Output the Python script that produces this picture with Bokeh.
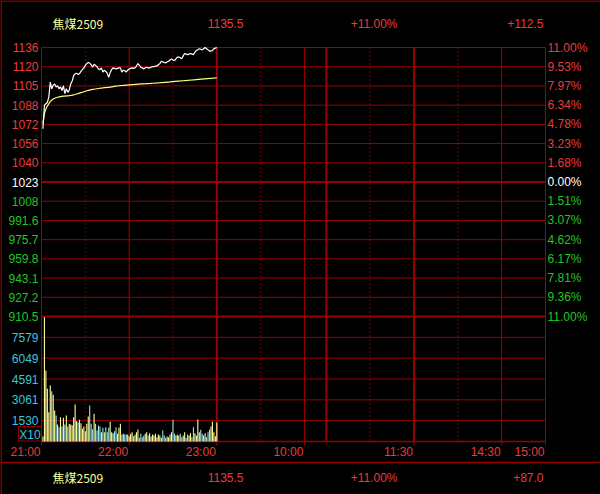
import numpy as np
from bokeh.plotting import figure
from bokeh.models import Range1d, GlobalInlineStyleSheet, ColumnDataSource
from bokeh.core.properties import value
from bokeh.embed import file_html
from bokeh.resources import INLINE

# ---------------- data ----------------
contract = "焦煤2509"
prev_settle = 1023.0
price_hi = 1135.5
price_lo = 910.5
session_minutes = 345

header_values = ["1135.5", "+11.00%", "+112.5"]
footer_values = ["1135.5", "+11.00%", "+87.0"]

price_labels = ["1136", "1120", "1105", "1088", "1072", "1056", "1040", "1023",
                "1008", "991.6", "975.7", "959.8", "943.1", "927.2", "910.5"]
pct_labels = ["11.00%", "9.53%", "7.97%", "6.34%", "4.78%", "3.23%", "1.68%", "0.00%",
              "1.51%", "3.07%", "4.62%", "6.17%", "7.81%", "9.36%", "11.00%"]
vol_labels = ["1530", "3061", "4591", "6049", "7579"]
vol_top = 9109
vol_unit_label = "X10"

# minutes from 21:00 (night 21-23, day 9-10:15, 10:30-11:30, 13:30-15:00)
time_ticks = [0, 60, 120, 180, 255, 315, 345]
time_labels = ["21:00", "22:00", "23:00", "10:00", "11:30", "14:30", "15:00"]
solid_minutes = [60, 180, 315]
thick_minutes = [120, 195, 255]
dotted_minutes = [30, 90, 150, 225, 285]

minutes = list(range(1, 121))
prices = [1067.5, 1087.0, 1088.5, 1089.5, 1094.0, 1106.5, 1101.0, 1104.0, 1105.0, 1102.5,
          1103.5, 1101.0, 1102.5, 1099.5, 1103.5, 1097.0, 1101.0, 1098.0, 1100.0, 1105.0,
          1107.5, 1112.0, 1113.5, 1114.0, 1113.0, 1113.5, 1115.5, 1117.0, 1118.5, 1120.5,
          1122.0, 1123.0, 1122.5, 1121.0, 1119.0, 1121.5, 1120.5, 1119.5, 1117.5, 1117.0,
          1118.5, 1115.0, 1116.5, 1115.5, 1114.0, 1110.5, 1114.5, 1117.0, 1118.5, 1118.0,
          1117.5, 1118.0, 1118.5, 1118.5, 1115.0, 1116.5, 1116.0, 1115.0, 1116.5, 1117.5,
          1118.0, 1118.5, 1118.0, 1118.5, 1120.0, 1122.0, 1120.5, 1119.0, 1118.5, 1117.5,
          1118.5, 1119.0, 1118.5, 1118.5, 1119.0, 1119.5, 1119.5, 1120.0, 1120.0, 1121.0,
          1122.0, 1124.0, 1123.5, 1123.0, 1122.5, 1123.5, 1124.0, 1125.0, 1126.0, 1125.0,
          1124.5, 1126.0, 1127.5, 1127.5, 1127.0, 1126.0, 1128.5, 1130.5, 1130.0, 1129.5,
          1130.0, 1130.5, 1130.0, 1129.5, 1131.5, 1133.0, 1133.5, 1134.5, 1134.0, 1133.5,
          1134.5, 1135.5, 1134.5, 1133.5, 1132.5, 1132.5, 1133.0, 1134.5, 1135.0, 1135.5]
avg_prices = [1072.0, 1080.5, 1084.0, 1086.5, 1088.5, 1090.3, 1091.5, 1092.4, 1093.0, 1093.5,
              1093.9, 1094.2, 1094.4, 1094.6, 1094.8, 1094.9, 1095.0, 1095.1, 1095.2, 1095.4,
              1095.6, 1095.9, 1096.2, 1096.6, 1096.9, 1097.3, 1097.7, 1098.1, 1098.5, 1098.9,
              1099.3, 1099.6, 1099.9, 1100.2, 1100.4, 1100.6, 1100.8, 1101.0, 1101.2, 1101.4,
              1101.6, 1101.7, 1101.9, 1102.0, 1102.1, 1102.2, 1102.4, 1102.6, 1102.8, 1103.0,
              1103.2, 1103.3, 1103.5, 1103.6, 1103.7, 1103.8, 1103.9, 1104.0, 1104.1, 1104.2,
              1104.3, 1104.4, 1104.5, 1104.6, 1104.7, 1104.8, 1104.9, 1105.0, 1105.0, 1105.1,
              1105.2, 1105.3, 1105.3, 1105.4, 1105.5, 1105.6, 1105.6, 1105.7, 1105.8, 1105.9,
              1106.0, 1106.1, 1106.2, 1106.3, 1106.4, 1106.5, 1106.6, 1106.7, 1106.9, 1107.0,
              1107.1, 1107.2, 1107.3, 1107.4, 1107.5, 1107.6, 1107.7, 1107.8, 1107.9, 1108.0,
              1108.1, 1108.2, 1108.3, 1108.4, 1108.5, 1108.7, 1108.8, 1108.9, 1109.0, 1109.1,
              1109.2, 1109.3, 1109.4, 1109.5, 1109.6, 1109.7, 1109.8, 1109.9, 1110.0, 1110.1]
volumes = [364, 9060, 5174, 3838, 2138, 4081, 3668, 3400, 2259, 1895,
           1239, 1045, 1773, 1093, 1725, 1239, 1895, 1093, 1287, 1239,
           1190, 1773, 2696, 1482, 1409, 1579, 1336, 923, 1093, 753,
           1287, 1822, 2623, 1287, 899, 2016, 1287, 802, 1166, 1093,
           680, 996, 680, 1045, 680, 996, 1433, 680, 607, 753,
           1045, 559, 996, 1287, 486, 559, 510, 510, 510, 389,
           559, 680, 389, 486, 680, 875, 267, 559, 316, 437,
           559, 680, 437, 607, 364, 510, 462, 559, 316, 510,
           437, 267, 802, 437, 267, 364, 316, 510, 680, 1579,
           559, 437, 486, 437, 559, 316, 437, 680, 267, 510,
           437, 607, 316, 1045, 607, 437, 1603, 680, 850, 559,
           437, 607, 316, 680, 850, 1093, 1433, 680, 389, 1385]

# ---------------- layout (pixels) ----------------
W, H = 600, 494
L, R, T, MID, B = 41, 545, 47, 316, 441

GRID = "#9a0000"
RED = "#e83c3c"
GREEN = "#22c622"
WHITE = "#ffffff"
CYAN = "#3cc4d8"
YELLOW = "#ffff99"
FONT = value("Liberation Sans")
FS = value("12px")

ppm = (R - L) / session_minutes
ppp = (MID - T) / (price_hi - price_lo)
ppv = (B - MID) / vol_top

p = figure(width=W, height=H, output_backend="svg", toolbar_location=None,
           x_range=Range1d(-L / ppm, (W - L) / ppm),
           y_range=Range1d(price_hi - (H - T) / ppp, price_hi + T / ppp),
           min_border=0, min_border_left=0, min_border_right=0,
           min_border_top=0, min_border_bottom=0,
           background_fill_color="black", border_fill_color="black",
           outline_line_color=None, x_axis_location=None, y_axis_location=None)
p.extra_x_ranges = {"px": Range1d(0, W)}
p.extra_y_ranges = {"py": Range1d(H, 0),
                    "vol": Range1d(-(H - B) / ppv, B / ppv)}
p.grid.visible = False
p.stylesheets = [GlobalInlineStyleSheet(css="html, body { margin: 0 !important; padding: 0; background: #000; overflow: hidden; }")]

# ---------------- grid ----------------
n = len(price_labels) - 1
levels = [price_hi - k * (price_hi - price_lo) / n for k in range(n + 1)]
thin_levels = [lv for lv in levels if abs(lv - prev_settle) > 1e-6 and abs(lv - price_lo) > 1e-6]
thick_levels = [prev_settle, price_lo]
p.segment(x0=0, x1=session_minutes, y0=thin_levels, y1=thin_levels, line_color=GRID, line_width=1)
p.segment(x0=0, x1=session_minutes, y0=thick_levels, y1=thick_levels, line_color=GRID, line_width=2)

vol_levels = [vol_top * k / 6 for k in range(1, 6)]
p.segment(x0=0, x1=session_minutes, y0=vol_levels, y1=vol_levels, line_color=GRID,
          line_width=1, y_range_name="vol")
p.segment(x0=0, x1=session_minutes, y0=0, y1=0, line_color=GRID, line_width=1.5, y_range_name="vol")

p.segment(x0=[0, session_minutes], x1=[0, session_minutes], y0=T, y1=B, line_color=GRID,
          line_width=1, y_range_name="py")
p.segment(x0=solid_minutes, x1=solid_minutes, y0=T, y1=B, line_color=GRID,
          line_width=1, y_range_name="py")
p.segment(x0=thick_minutes, x1=thick_minutes, y0=T, y1=B, line_color=GRID,
          line_width=2, y_range_name="py")
p.segment(x0=dotted_minutes, x1=dotted_minutes, y0=T, y1=B, line_color="#b00000",
          line_width=1.3, line_dash="1 3", y_range_name="py")
p.segment(x0=time_ticks, x1=time_ticks, y0=B, y1=B + 4, line_color=GRID,
          line_width=1, y_range_name="py")

# outer frame and separator
p.segment(x0=[0, 0.5, 0], x1=[W, 0.5, W], y0=[0.5, 0, 462], y1=[0.5, H, 462],
          line_color=GRID, line_width=1.5, x_range_name="px", y_range_name="py")

# ---------------- volume ----------------
vol_colors = [YELLOW] + [YELLOW if prices[i] >= prices[i - 1] else "#8fe6ea"
                         for i in range(1, len(prices))]
vsrc = ColumnDataSource(dict(x=minutes, top=volumes, color=vol_colors))
p.vbar(x="x", top="top", bottom=0, width=0.75, fill_color="color", line_color=None,
       source=vsrc, y_range_name="vol")

# ---------------- price ----------------
p.line(minutes, avg_prices, line_color="#ffff80", line_width=1.2)
p.line(minutes, prices, line_color=WHITE, line_width=1.2)

# ---------------- labels ----------------
idx_mid = price_labels.index("1023")
lcolors = [RED if k < idx_mid else (WHITE if k == idx_mid else GREEN) for k in range(n + 1)]
p.text(x=L - 3, y=levels, text=price_labels, text_color=lcolors, text_align="right",
       text_baseline="middle", text_font=FONT, text_font_size=FS, x_range_name="px")
p.text(x=R + 2, y=levels, text=pct_labels, text_color=lcolors, text_align="left",
       text_baseline="middle", text_font=FONT, text_font_size=FS, x_range_name="px")
p.text(x=L - 3, y=vol_levels, text=vol_labels, text_color=CYAN, text_align="right",
       text_baseline="middle", text_font=FONT, text_font_size=FS,
       x_range_name="px", y_range_name="vol")

# X10 box
p.quad(left=18, right=L, top=426, bottom=B - 0.5, fill_color=None, line_color=GRID,
       line_width=1, x_range_name="px", y_range_name="py")
p.text(x=(18 + L) / 2, y=434, text=[vol_unit_label], text_color=CYAN, text_align="center",
       text_baseline="middle", text_font=FONT, text_font_size=FS,
       x_range_name="px", y_range_name="py")

# time labels
p.text(x=time_ticks, y=451, text=time_labels, text_color=RED, text_align="right",
       text_baseline="middle", x_offset=-1, text_font=FONT, text_font_size=FS,
       y_range_name="py")

# header / footer
for yy, vals in ((23, header_values), (477, footer_values)):
    p.text(x=52, y=yy, text=[contract], text_color=YELLOW, text_align="left",
           text_baseline="middle", text_font=value("Noto Sans CJK SC"), text_font_size=FS,
           x_range_name="px", y_range_name="py")
    p.text(x=[243, 397, 543], y=yy, text=vals, text_color=RED, text_align="right",
           text_baseline="middle", text_font=FONT, text_font_size=FS,
           x_range_name="px", y_range_name="py")

open("out.html", "w").write(file_html(p, INLINE))
